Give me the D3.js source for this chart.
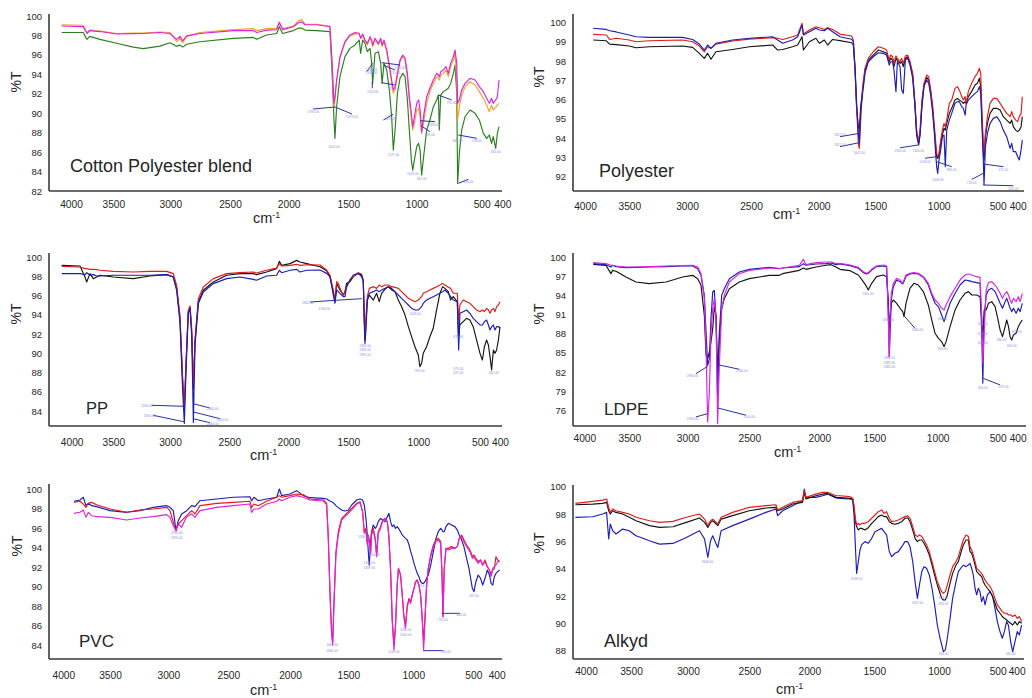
<!DOCTYPE html>
<html>
<head>
<meta charset="utf-8">
<script src="https://cdn.jsdelivr.net/npm/d3@7"></script>
<style>
  html, body { margin: 0; padding: 0; background: #fff; }
  svg { display: block; font-family: "Liberation Sans", Arial, Helvetica, sans-serif; }
</style>
</head>
<body>
<svg id="chart" width="1032" height="698"></svg>
<script>
// ---------- shared axis values ----------
const xTickValues = [4000, 3500, 3000, 2500, 2000, 1500, 1000, 500, 400];

// ---------- Cotton Polyester blend ----------
const p1Wavenumber = [4110,3855,3825,3810,3780,3657,3471,3325,3237,3091,3003,2947,2919,2897,2863,2752,2472,2302,2273,2188,2102,2080,2052,1961,1919,1891,1863,1766,1654,1637,1620,1612,1598,1570,1528,1488,1451,1420,1410,1395,1378,1361,1341,1329,1322,1305,1280,1263,1253,1239,1219,1200,1183,1171,1158,1141,1122,1102,1085,1068,1054,1039,1029,1017,1000,985,974,962,944,923,898,872,846,833,826,815,795,775,757,739,718,705,692,685,672,654,628,590,551,518,492,476,463,452,444,432,424,416];
const p1Magenta = [98.97,98.90,98.40,98.20,98.50,98.40,98.15,98.18,98.20,98.30,98.20,97.60,97.90,97.45,97.95,98.20,98.50,98.50,98.30,98.55,98.60,99.30,98.60,98.90,99.30,99.40,99.10,99.10,98.90,95.47,91.02,91.70,93.42,95.82,97.36,98.05,98.29,98.22,97.70,98.15,97.53,97.19,97.87,97.53,97.02,97.70,97.19,97.70,97.02,97.53,96.50,94.96,93.42,92.39,92.73,94.10,95.47,95.99,95.65,94.10,91.70,89.99,88.61,89.64,91.02,91.36,90.33,88.10,89.99,91.70,92.56,93.42,94.10,93.93,93.76,94.27,94.44,94.79,94.10,95.13,95.82,96.50,95.13,91.02,91.36,92.39,93.07,93.59,93.42,92.73,92.22,91.53,91.02,91.53,91.02,91.36,91.70,93.42];
const p1Orange = [99.10,99.05,98.50,98.30,98.55,98.45,98.20,98.25,98.25,98.35,98.30,97.35,97.70,97.25,97.90,98.30,98.60,98.70,98.50,98.70,98.75,99.40,98.70,98.97,99.50,99.65,99.15,99.15,98.97,95.30,90.50,91.36,93.24,95.65,97.26,97.94,98.15,98.15,97.70,98.05,97.36,97.02,97.70,97.36,96.85,97.53,97.02,97.53,96.85,97.36,96.33,94.62,93.07,92.05,92.39,93.76,95.30,95.89,95.54,93.59,91.36,89.30,88.27,88.96,90.33,90.50,89.64,87.93,89.30,91.02,92.22,93.07,93.76,93.59,93.42,93.93,94.10,94.44,93.76,94.79,95.47,96.16,93.42,89.30,90.67,91.87,92.73,93.24,92.90,92.22,91.53,90.84,90.16,90.84,90.33,90.60,90.84,91.02];
const p1Green = [98.30,98.30,97.80,97.60,97.90,97.60,97.20,96.80,96.65,96.90,97.25,96.90,97.00,96.80,97.10,97.35,97.70,97.80,97.60,98.05,98.20,98.90,98.20,98.50,98.75,98.75,98.55,98.50,98.39,94.44,89.30,87.41,90.67,93.76,95.82,96.67,97.02,97.53,96.16,97.53,97.19,96.33,96.67,95.13,93.07,96.16,96.33,95.13,93.07,95.13,94.44,92.39,89.64,86.21,88.27,92.05,93.59,94.10,93.76,91.36,88.27,85.18,84.15,85.18,86.56,86.90,86.21,83.64,85.87,88.27,89.30,90.67,91.36,91.87,88.27,91.87,92.22,92.39,92.56,93.07,94.10,94.96,92.05,82.78,85.87,88.27,89.64,90.33,89.99,89.30,87.93,87.41,87.76,86.90,87.59,86.38,87.93,88.61];
const p1Leaders = [[1612,90.64,1796,90.43],[1612,90.64,1473,89.92],[1365,94.27,1322,95.13],[1325,93.24,1325,92.56],[1256,95.2,1122,94.96],[1244,94.96,1159,94.44],[1256,93.14,1159,92.9],[1244,89.3,1171,89.9],[975,89.23,859,89.13],[962,88.68,898,88.1],[834,91.87,731,91.36],[680,87.76,538,87.42],[680,82.79,603,83.2]];
const p1PeakLabels = [[1796,90.2],[1473,89.7],[1620,86.6],[1330,94.6],[1330,94.2],[1322,92.3],[1122,94.8],[1159,94.2],[1159,92.6],[1171,85.8],[1190,89.5],[1029,83.9],[962,83.3],[859,88.9],[898,87.9],[731,91.2],[538,87.2],[603,83.0],[685,87.2],[432,86.1]];

// ---------- Polyester ----------
const p2Wavenumber = [3908,3760,3722,3648,3500,3442,3326,3038,2956,2904,2865,2839,2813,2774,2644,2513,2340,2303,2266,2193,2155,2123,2113,2069,2020,1994,1950,1921,1877,1812,1709,1694,1679,1665,1650,1641,1629,1612,1591,1562,1518,1476,1437,1411,1390,1379,1363,1353,1337,1326,1305,1292,1279,1263,1245,1226,1205,1187,1174,1158,1147,1132,1116,1095,1079,1063,1047,1034,1024,1016,1008,997,983,969,955,944,932,910,890,862,842,825,805,791,776,768,749,721,692,672,655,644,633,621,616,604,587,565,537,508,488,472,455,438,430,422,410,400,392,383,377];
const p2Red = [99.39,99.36,99.13,99.19,99.10,99.01,99.06,99.10,99.01,98.79,98.49,98.75,98.67,98.89,99.05,99.15,99.22,99.19,99.13,99.27,99.36,99.97,99.41,99.62,99.79,99.74,99.65,99.74,99.65,99.41,99.31,99.10,97.54,95.64,93.73,93.47,94.94,96.68,97.63,98.15,98.49,98.75,98.67,98.58,98.06,98.32,98.23,97.89,98.27,98.15,97.97,98.15,97.89,98.27,98.32,97.97,97.37,95.81,94.42,93.82,94.42,95.98,96.85,97.28,97.20,96.50,95.64,94.60,93.82,93.21,93.04,93.21,93.90,94.42,94.77,94.60,94.94,95.81,95.98,96.59,96.68,96.50,96.16,95.98,96.16,95.81,96.42,96.85,97.20,97.37,97.63,97.37,95.29,93.56,93.21,94.25,95.12,95.81,96.07,96.07,95.81,95.55,95.29,95.12,95.38,95.12,94.94,94.86,95.12,95.29,96.15];
const p2Black = [99.10,99.06,98.89,98.86,98.79,98.70,98.75,98.79,98.72,98.41,98.15,98.41,98.10,98.49,98.61,98.75,98.84,98.58,98.61,98.75,98.84,99.27,98.58,99.01,99.19,98.93,99.10,98.84,99.13,99.07,98.96,98.84,97.54,95.55,94.60,94.42,95.64,96.50,97.54,98.06,98.32,98.58,98.49,98.41,97.97,98.15,98.06,97.72,98.15,98.03,97.89,97.97,97.72,98.15,98.23,97.89,97.28,95.72,94.25,93.73,94.25,95.81,96.76,97.16,97.02,96.42,95.46,94.42,93.56,93.04,92.95,93.13,93.73,94.16,94.51,94.42,94.77,95.29,95.55,95.98,96.07,95.98,95.90,95.81,95.90,95.81,96.16,96.42,96.76,96.85,97.11,96.68,94.94,93.21,92.87,94.08,94.77,95.29,95.55,95.55,95.46,95.12,94.94,94.77,94.94,94.60,94.42,94.34,94.42,94.60,95.12];
const p2Blue = [99.71,99.65,99.58,99.52,99.36,99.27,99.24,99.24,99.13,98.89,98.58,98.84,98.67,98.93,99.10,99.19,99.27,99.10,98.93,99.10,99.27,99.88,99.36,99.53,99.71,99.62,99.58,99.71,99.53,99.27,99.14,99.01,97.72,95.81,94.25,93.73,95.46,96.33,97.37,97.97,98.23,98.44,98.41,98.32,97.80,97.97,97.97,97.54,96.42,97.97,97.72,96.50,96.33,98.06,98.15,97.80,97.11,95.64,94.16,93.64,94.16,95.64,96.68,97.02,96.85,96.24,95.29,94.25,93.21,92.52,92.17,92.87,93.39,94.08,94.16,92.52,94.42,94.94,95.29,95.81,95.90,95.90,95.64,95.55,95.20,95.72,95.98,96.16,96.33,96.42,96.68,96.33,94.60,92.69,91.57,93.56,94.25,94.77,95.03,95.12,94.86,94.42,94.08,93.47,93.73,93.30,93.30,93.04,92.87,93.39,93.90];
const p2Leaders = [[1641,94.25,1812,94.08],[1641,93.77,1812,93.56],[1160,93.65,1305,93.5],[1016,93.04,1108,92.96],[1016,92.78,890,92.52],[621,92.18,720,91.86],[621,92.66,472,92.52],[621,91.57,422,91.53]];
const p2PeakLabels = [[1812,94.2],[1812,93.7],[1641,93.3],[1305,93.4],[1160,93.4],[1108,92.8],[890,92.4],[1008,91.9],[720,91.7],[472,92.4],[422,91.4]];

// ---------- PP ----------
const p3Wavenumber = [4120,3900,3840,3820,3780,3740,3700,3660,3500,3324,3177,3029,2972,2944,2916,2893,2879,2865,2846,2831,2817,2803,2789,2761,2719,2635,2522,2410,2297,2269,2184,2099,2076,2056,1986,1930,1903,1847,1736,1681,1653,1625,1611,1597,1583,1570,1542,1528,1514,1488,1464,1429,1405,1393,1386,1381,1374,1364,1350,1321,1298,1279,1262,1238,1214,1191,1167,1143,1119,1095,1071,1048,1024,1000,987,973,960,933,906,879,852,825,803,784,757,738,717,684,673,663,636,609,582,555,528,500,488,478,467,458,450,442,433,425,417,408,400];
const p3Black = [99.13,99.06,97.92,97.40,98.27,97.75,97.92,98.10,97.92,97.75,98.03,98.17,97.92,96.71,93.60,87.02,84.26,88.75,94.29,94.81,92.21,86.33,91.18,95.33,96.54,97.40,98.10,98.27,98.27,98.17,98.44,98.79,99.55,99.13,99.31,99.65,99.48,99.31,98.99,98.58,97.96,96.40,95.36,97.26,96.92,96.57,96.05,96.40,97.26,97.44,97.96,98.30,97.96,97.44,93.80,91.38,93.11,95.53,96.05,95.53,96.23,95.36,96.23,96.64,96.92,96.74,96.40,95.53,94.84,93.97,92.76,91.72,90.68,89.82,88.61,88.95,89.99,90.68,91.72,92.59,94.49,96.23,96.92,96.74,96.40,95.53,95.88,95.36,91.55,92.94,93.28,93.63,93.45,92.76,91.38,89.99,89.30,90.68,91.38,90.86,89.65,88.26,90.34,89.99,90.34,91.38,92.76];
const p3Red = [99.03,98.96,98.79,98.79,98.72,98.72,98.69,98.62,98.51,98.44,98.51,98.51,98.27,97.06,93.94,87.37,84.60,89.10,94.46,94.91,92.56,86.68,91.52,95.67,96.89,97.75,98.27,98.37,98.44,98.34,98.62,98.86,99.31,99.06,99.13,99.24,99.13,99.20,99.17,98.65,98.13,96.57,95.53,97.44,97.26,96.74,96.05,96.40,96.92,97.61,97.96,98.37,98.23,97.44,93.80,91.38,93.80,95.88,96.74,96.92,96.74,97.09,96.92,97.09,97.09,96.92,96.85,96.74,96.40,96.05,95.71,95.53,95.36,95.53,95.71,95.88,96.23,96.40,96.57,96.74,96.92,97.09,97.26,97.09,96.85,96.74,96.23,96.23,93.45,95.01,95.53,95.36,95.19,94.84,94.49,94.32,94.49,94.32,94.67,94.49,94.15,94.49,94.67,94.32,94.84,95.01,95.36];
const p3Blue = [98.27,98.27,98.17,98.37,98.10,98.17,98.03,98.03,98.10,98.10,98.10,98.17,97.92,96.54,93.25,85.99,82.70,88.06,94.12,94.64,91.87,82.80,90.83,95.16,96.37,97.23,97.75,97.92,97.68,97.58,98.03,98.10,98.62,98.37,98.62,98.72,98.44,98.62,98.65,98.30,97.96,96.05,95.19,96.57,96.40,96.23,95.88,95.88,96.92,97.61,98.13,98.30,98.13,97.61,93.11,91.03,92.42,95.53,96.23,96.40,96.57,96.40,96.57,96.74,96.92,96.57,96.40,96.05,95.71,95.36,95.01,94.67,94.49,94.49,94.67,94.84,95.19,95.53,95.71,95.88,96.05,96.23,96.40,96.57,96.23,95.88,95.53,95.36,90.34,94.15,94.32,94.49,94.15,93.63,93.28,92.94,92.94,93.28,93.45,92.94,92.42,92.76,92.94,92.42,92.76,92.76,92.59];
const p3Leaders = [[2874,84.49,3161,84.59],[2874,82.86,3147,83.55],[2804,84.76,2663,84.31],[2804,83.9,2578,83.2],[2804,83.2,2663,82.78],[1611,95.5,1819,95.32],[1611,95.5,1404,95.67]];
const p3PeakLabels = [[3200,84.6],[3180,83.6],[2640,84.3],[2560,83.2],[2640,82.8],[1840,95.3],[1700,94.7],[1381,90.9],[1381,90.4],[1381,89.9],[1024,94.2],[990,88.3],[675,91.8],[675,88.5],[675,88.1],[432,88.1]];

// ---------- LDPE ----------
const p4Wavenumber = [3900,3760,3704,3686,3648,3537,3443,3329,3185,3043,2960,2919,2892,2865,2851,2838,2824,2811,2797,2784,2770,2757,2743,2724,2703,2662,2581,2500,2357,2286,2262,2143,2114,2095,2024,1939,1894,1848,1812,1721,1645,1600,1570,1555,1524,1482,1429,1403,1390,1382,1376,1366,1350,1324,1297,1276,1266,1250,1219,1187,1153,1113,1074,1047,1021,994,967,947,930,897,855,814,772,744,716,675,647,633,624,613,596,577,550,522,503,488,476,463,455,446,438,430,421,408,397,388,377];
const p4Magenta = [99.11,98.96,98.70,98.70,98.59,98.43,98.43,98.49,98.59,98.65,98.70,98.43,97.39,93.48,85.65,74.18,78.87,88.26,91.91,93.48,90.35,73.92,83.05,91.91,94.00,96.09,97.39,97.91,98.28,98.17,98.28,98.70,99.63,98.80,99.11,99.22,99.22,98.96,99.01,98.75,98.38,97.70,97.44,97.55,98.07,98.59,98.75,98.59,90.66,84.40,90.66,94.32,95.88,96.66,96.40,95.88,96.40,97.18,97.44,97.55,97.44,96.92,95.88,94.32,93.27,92.75,91.97,91.71,92.49,93.79,95.10,96.40,97.18,97.34,97.18,96.92,96.82,90.66,83.36,88.06,94.84,95.98,96.14,95.62,95.10,94.32,93.53,94.32,94.58,94.05,93.27,92.75,93.53,93.01,93.79,93.01,94.32];
const p4Blue = [98.96,98.80,98.43,98.70,98.49,98.33,98.38,98.43,98.49,98.59,98.59,98.17,97.13,94.00,88.26,83.05,84.09,90.35,94.52,94.78,90.35,77.83,88.26,94.00,95.04,96.61,97.65,98.07,98.38,98.17,98.28,98.49,98.96,98.70,98.90,98.96,99.06,98.80,98.90,98.65,98.23,97.55,97.34,97.44,97.97,98.49,98.59,98.49,91.71,84.40,87.53,93.27,95.36,96.40,96.14,95.78,96.14,97.03,97.34,97.44,97.34,96.82,95.62,94.05,92.75,92.23,90.92,89.88,90.92,92.75,94.32,95.62,96.40,96.30,96.14,95.98,95.88,88.06,80.23,90.66,94.05,94.84,95.10,94.58,93.79,92.75,91.97,93.01,93.53,92.75,91.97,91.45,91.97,91.19,91.97,91.45,92.75];
const p4Black = [98.85,98.70,97.39,97.91,97.76,96.87,96.09,95.83,96.09,96.87,97.13,96.61,95.57,90.87,84.61,84.09,85.13,86.70,88.78,92.18,90.87,82.00,87.22,91.91,93.48,95.04,96.09,96.61,97.13,97.13,97.39,97.91,98.28,98.07,98.43,98.70,98.80,98.43,98.07,97.86,97.18,96.14,95.36,94.84,95.88,96.92,97.18,96.92,93.27,88.06,90.66,92.75,93.27,92.75,91.97,91.45,90.66,92.75,95.10,95.88,95.62,94.58,92.49,90.14,88.06,87.27,86.75,85.97,86.75,89.09,91.71,93.27,94.32,94.58,94.05,94.05,93.79,90.14,87.01,91.71,91.71,92.75,93.01,92.23,90.66,88.58,87.53,89.09,90.14,89.09,87.53,87.01,87.80,88.06,89.09,89.62,90.14];
const p4Leaders = [[2838,82.89,2933,81.74],[2757,83.15,2581,82.42],[2838,75.48,2933,74.96],[2757,76.37,2527,75.23],[1271,90.92,1179,88.84],[620,81.0,488,79.97]];
const p4PeakLabels = [[2960,81.6],[2560,82.3],[2960,74.8],[2500,75.1],[1560,94.4],[1390,90.3],[1382,84.3],[1382,83.6],[1382,82.9],[1160,88.7],[960,90.5],[960,85.8],[624,89.7],[624,88.1],[624,86.7],[624,79.6],[470,79.8],[480,87.2],[430,86.2],[405,88.4]];

// ---------- PVC ----------
const p5Wavenumber = [3886,3822,3786,3757,3732,3697,3643,3500,3357,3243,3129,3014,2986,2958,2936,2917,2889,2847,2805,2778,2736,2597,2460,2325,2311,2292,2257,2190,2108,2086,2068,2000,1943,1886,1829,1714,1686,1672,1657,1643,1634,1623,1606,1586,1557,1529,1500,1474,1436,1410,1390,1377,1364,1354,1346,1339,1328,1321,1308,1293,1282,1270,1252,1236,1218,1200,1188,1175,1162,1149,1137,1124,1114,1098,1085,1073,1060,1046,1033,1020,1008,994,981,967,953,939,925,914,903,889,875,855,833,811,792,772,761,753,742,728,708,681,653,633,617,597,578,556,536,522,508,497,489,479,469,460,450,440,431,424,417,410,403,396,388];
const p5Blue = [98.74,98.87,99.15,98.29,98.53,98.29,98.19,97.78,97.61,97.78,98.12,98.29,98.12,97.78,95.73,96.75,97.44,97.78,98.29,98.19,98.80,98.97,99.15,99.21,98.80,99.15,98.80,98.97,99.15,100.0,99.32,99.49,99.83,99.32,99.11,99.04,98.97,98.87,98.77,98.70,98.63,98.53,98.29,98.09,97.85,97.74,97.85,98.36,98.87,98.97,98.87,98.36,96.99,95.28,93.57,92.20,94.60,95.62,96.31,95.96,96.14,96.65,96.99,96.82,96.65,97.16,97.50,96.65,96.14,96.31,95.96,96.14,95.96,95.62,95.28,95.11,94.94,94.77,94.26,93.57,93.06,92.37,91.86,91.35,91.01,90.49,90.32,90.32,90.49,90.84,91.18,92.20,93.57,94.94,95.62,95.96,95.79,95.62,95.62,96.14,96.48,96.31,96.14,95.79,95.28,94.77,94.09,92.89,91.86,90.84,89.81,89.47,90.49,91.18,90.84,90.15,90.84,91.69,91.18,90.32,90.15,91.01,91.35,91.52,91.69];
const p5Red = [98.63,98.74,98.46,98.12,98.53,98.63,98.39,97.95,97.61,97.85,97.95,98.12,97.78,96.58,95.73,96.41,96.75,97.26,97.78,97.44,98.29,98.53,98.63,98.74,98.12,98.46,98.29,98.74,99.15,99.32,99.15,99.32,99.49,99.42,98.97,98.87,98.53,95.28,89.47,85.37,84.34,88.44,93.57,95.62,96.99,97.33,97.67,98.02,98.53,98.70,97.67,95.62,95.96,94.43,95.28,94.77,93.57,95.62,95.96,94.94,93.23,95.62,96.14,96.82,96.99,96.65,95.28,91.86,86.73,84.00,86.05,90.15,91.86,91.18,89.13,87.07,86.05,88.10,88.78,88.44,89.13,89.81,90.49,90.67,90.15,89.13,86.73,84.34,86.73,90.15,91.86,93.23,94.26,94.77,94.94,94.60,91.52,86.90,91.86,93.91,93.91,94.09,93.91,94.09,94.94,95.28,94.77,94.26,93.91,93.57,93.06,93.23,92.89,92.55,92.72,92.20,92.72,92.03,91.69,91.18,91.69,91.86,93.06,92.72,92.55];
const p5Magenta = [97.50,97.61,97.85,97.09,97.61,97.26,97.16,97.09,96.82,97.03,97.16,97.37,97.09,96.24,95.73,96.41,96.07,97.16,97.44,97.09,97.78,98.12,98.29,98.46,97.61,97.95,97.95,98.46,98.74,98.97,98.80,99.15,99.32,99.15,98.87,98.77,98.36,94.94,89.13,85.02,84.00,88.10,93.23,95.28,96.82,97.16,97.50,97.85,98.43,98.63,97.67,95.45,95.62,94.26,95.11,94.60,93.40,95.28,95.79,94.77,93.06,95.45,95.96,96.72,96.92,96.65,95.11,91.69,86.39,83.49,85.71,90.15,91.86,91.18,89.13,86.90,85.71,87.93,88.61,88.27,89.13,89.81,90.49,90.56,90.15,89.13,86.39,83.49,86.39,90.15,91.86,93.06,94.09,94.60,94.77,94.43,91.18,86.90,91.86,93.91,93.74,93.91,93.91,94.09,94.94,95.11,94.60,94.09,93.74,93.40,92.89,93.06,92.72,92.37,92.72,92.20,92.55,92.03,91.69,91.01,91.86,92.03,92.20,92.55,92.55];
const p5Leaders = [[917,83.42,750,83.42],[764,87.25,611,87.25]];
const p5PeakLabels = [[2930,95.6],[2930,95.1],[1640,84.1],[1640,83.5],[1380,95.2],[1339,92.5],[1339,92.0],[1300,93.3],[1149,83.4],[1060,85.6],[1060,85.1],[914,90.2],[730,83.4],[753,86.7],[600,87.2],[497,89.1]];

// ---------- Alkyd ----------
const p6Wavenumber = [4118,3926,3815,3771,3748,3730,3704,3667,3593,3519,3456,3338,3250,3132,3015,2906,2865,2838,2816,2798,2770,2757,2730,2636,2500,2361,2278,2264,2222,2139,2056,2042,2028,1949,1898,1859,1795,1764,1687,1666,1656,1646,1636,1623,1610,1598,1572,1546,1520,1495,1469,1443,1425,1405,1384,1366,1340,1314,1288,1263,1242,1224,1203,1185,1167,1151,1133,1116,1096,1075,1054,1034,1013,991,977,963,946,929,906,884,855,835,815,793,770,750,736,722,708,693,679,665,651,637,622,608,588,565,543,523,503,488,476,465,453,444,432,421,409,397,386,374];
const p6Red = [98.78,98.93,99.02,99.10,98.49,98.12,98.37,98.24,98.12,98.00,97.76,97.51,97.39,97.46,97.76,98.00,97.63,97.15,97.51,97.63,97.39,97.27,97.76,98.12,98.49,98.61,98.68,98.29,98.49,98.85,98.98,99.71,99.22,99.46,99.59,99.59,99.34,99.34,99.27,99.15,98.66,97.69,97.20,97.32,97.20,97.32,97.32,97.44,97.69,97.93,98.17,98.30,98.05,98.17,97.69,97.44,97.49,97.56,97.69,97.81,97.88,97.69,97.08,96.47,96.35,96.47,96.35,96.10,95.74,95.25,94.52,93.79,93.05,92.57,92.32,92.20,92.32,92.81,93.54,94.15,94.52,94.88,95.49,96.10,96.47,96.35,95.61,95.37,95.00,94.52,94.03,93.91,93.79,93.66,93.42,93.18,92.93,92.69,92.32,91.83,91.35,91.10,90.86,90.74,90.74,90.62,90.62,90.50,90.62,90.37,90.50,90.13];
const p6Black = [98.68,98.73,98.78,98.85,98.24,98.00,98.24,98.12,98.00,97.76,97.51,97.15,97.02,97.07,97.39,97.71,97.39,97.02,97.39,97.51,97.27,97.15,97.63,97.88,98.24,98.44,98.49,98.24,98.37,98.73,98.85,99.59,99.10,99.34,99.46,99.51,99.22,99.20,99.15,99.10,98.42,97.44,97.08,96.83,96.95,96.95,96.83,97.00,97.32,97.56,97.81,97.93,97.81,97.81,97.44,97.32,97.25,97.32,97.44,97.69,97.73,97.44,96.83,96.22,95.98,96.10,96.10,95.86,95.49,95.00,94.27,93.54,92.81,92.20,91.83,91.71,91.71,92.08,92.93,93.66,94.27,94.52,95.13,95.74,96.10,96.10,95.25,95.13,94.76,94.27,93.79,93.66,93.54,93.42,93.05,92.81,92.57,92.32,91.96,91.47,90.98,90.74,90.50,90.37,90.25,90.13,90.01,89.88,90.13,89.88,90.13,90.01];
const p6Blue = [97.76,97.80,98.00,98.12,96.17,97.27,96.78,96.54,96.90,96.78,96.41,96.05,95.80,95.85,96.29,96.78,96.17,94.83,96.05,96.41,95.80,95.56,96.78,97.15,97.63,98.12,98.37,97.88,98.24,98.61,98.98,99.83,99.22,99.22,99.34,99.46,99.17,99.15,99.10,99.03,97.93,95.74,93.66,94.52,95.37,95.74,95.98,95.86,96.22,96.71,96.83,96.95,96.71,96.47,95.25,94.88,95.13,95.25,95.61,95.98,95.98,95.61,94.52,93.05,91.83,92.81,93.79,94.15,94.03,93.54,92.57,91.35,89.88,88.91,88.42,87.93,88.06,88.91,90.37,91.83,93.05,93.79,94.03,94.27,94.15,94.27,94.39,94.03,93.54,92.57,92.08,92.57,92.32,91.59,91.96,91.35,92.08,92.32,91.96,91.10,90.13,89.40,88.91,89.40,90.13,89.88,88.67,87.93,88.67,89.40,89.15,89.88];
const p6Leaders = [];
const p6PeakLabels = [[2840,94.6],[1636,93.3],[1167,91.6],[963,91.9],[963,91.5],[963,87.8],[432,87.8]];

// ---------- styling ----------
const COLORS = {
  magenta: "#de22de",
  orange: "#f2a22e",
  green: "#2c7e20",
  red: "#e21a1a",
  black: "#141414",
  blue: "#1c1cb8"
};
const AXIS_COLOR = "#3a3a3a";
const TEXT_COLOR = "#262626";
const LEADER_COLOR = "#2233a6";
const PEAK_TEXT_COLOR = "#8c8ce8";

// ---------- panel layout ----------
const panels = [
  {
    title: "Cotton Polyester blend", titleSize: 18,
    wn: p1Wavenumber,
    series: [[p1Green, COLORS.green], [p1Orange, COLORS.orange], [p1Magenta, COLORS.magenta]],
    leaders: p1Leaders, peakLabels: p1PeakLabels,
    yTicks: d3.range(82, 101, 2), yDomain: [82, 100], yRange: [191, 16],
    axisX: 49, top: 14, bottom: 191, right: 502,
    xTickPos: [71, 113.3, 170.3, 230, 288.7, 348.3, 416.7, 481.7, 502.3],
    xLabelBase: 208, cmX: 253, cmY: 223, titleX: 70, titleY: 172, pctX: 16, pctY: 82
  },
  {
    title: "Polyester", titleSize: 18,
    wn: p2Wavenumber,
    series: [[p2Black, COLORS.black], [p2Red, COLORS.red], [p2Blue, COLORS.blue]],
    leaders: p2Leaders, peakLabels: p2PeakLabels,
    yTicks: d3.range(92, 101, 1), yDomain: [92, 100], yRange: [176.7, 22.7],
    axisX: 573, top: 14, bottom: 191, right: 1024,
    xTickPos: [585, 629.3, 687, 751, 818.7, 875.3, 938.7, 997.7, 1017.7],
    xLabelBase: 210, cmX: 773, cmY: 219, titleX: 599, titleY: 177, pctX: 539, pctY: 77
  },
  {
    title: "PP", titleSize: 16.5,
    wn: p3Wavenumber,
    series: [[p3Black, COLORS.black], [p3Red, COLORS.red], [p3Blue, COLORS.blue]],
    leaders: p3Leaders, peakLabels: p3PeakLabels,
    yTicks: d3.range(84, 101, 2), yDomain: [84, 100], yRange: [411, 257],
    axisX: 49, top: 253, bottom: 426, right: 502,
    xTickPos: [71.7, 113.3, 170, 229.3, 288.3, 348.3, 418.3, 480, 500],
    xLabelBase: 446, cmX: 250, cmY: 460, titleX: 86, titleY: 414, pctX: 16, pctY: 314
  },
  {
    title: "LDPE", titleSize: 17,
    wn: p4Wavenumber,
    series: [[p4Black, COLORS.black], [p4Blue, COLORS.blue], [p4Magenta, COLORS.magenta]],
    leaders: p4Leaders, peakLabels: p4PeakLabels,
    yTicks: d3.range(76, 101, 3), yDomain: [76, 100], yRange: [410.3, 257],
    axisX: 573, top: 253, bottom: 426, right: 1026,
    xTickPos: [584.3, 629.3, 687.7, 749.3, 819.3, 874.3, 937.7, 997.7, 1017.7],
    xLabelBase: 442, cmX: 774, cmY: 457, titleX: 604, titleY: 415, pctX: 539, pctY: 314
  },
  {
    title: "PVC", titleSize: 17,
    wn: p5Wavenumber,
    series: [[p5Blue, COLORS.blue], [p5Red, COLORS.red], [p5Magenta, COLORS.magenta]],
    leaders: p5Leaders, peakLabels: p5PeakLabels,
    yTicks: d3.range(84, 101, 2), yDomain: [84, 100], yRange: [645, 489],
    axisX: 49, top: 484, bottom: 659, right: 502,
    xTickPos: [63.3, 110, 168.3, 228.3, 290, 348.3, 413.3, 473.3, 496.7],
    xLabelBase: 679, cmX: 250, cmY: 695, titleX: 79, titleY: 647, pctX: 17, pctY: 546
  },
  {
    title: "Alkyd", titleSize: 18,
    wn: p6Wavenumber,
    series: [[p6Blue, COLORS.blue], [p6Black, COLORS.black], [p6Red, COLORS.red]],
    leaders: p6Leaders, peakLabels: p6PeakLabels,
    yTicks: d3.range(88, 101, 2), yDomain: [88, 100], yRange: [650.7, 486.7],
    axisX: 573, top: 485, bottom: 659, right: 1024,
    xTickPos: [586, 631, 688, 749.3, 809.3, 874.3, 939, 997.7, 1016.7],
    xLabelBase: 675, cmX: 776, cmY: 694, titleX: 604, titleY: 647, pctX: 539, pctY: 543
  }
];

const svg = d3.select("#chart");
const fmtWn = d3.format(".2f");

panels.forEach(p => {
  const x = d3.scaleLinear().domain(xTickValues).range(p.xTickPos);
  const y = d3.scaleLinear().domain(p.yDomain).range(p.yRange);
  const g = svg.append("g");

  // y tick labels
  const yAxis = g.append("g")
    .attr("transform", `translate(${p.axisX},0)`)
    .call(d3.axisLeft(y).tickValues(p.yTicks).tickSize(0).tickPadding(7).tickFormat(d3.format("d")));
  yAxis.select(".domain").remove();
  yAxis.attr("font-family", null).attr("font-size", 9.5).attr("color", TEXT_COLOR);

  // x tick labels
  const xAxis = g.append("g")
    .attr("transform", `translate(0,${p.bottom})`)
    .call(d3.axisBottom(x).tickValues(xTickValues).tickSize(0)
      .tickPadding(p.xLabelBase - p.bottom - 7.2).tickFormat(d3.format("d")));
  xAxis.select(".domain").remove();
  xAxis.attr("font-family", null).attr("font-size", 10.2).attr("color", TEXT_COLOR);

  // spectra
  const line = d3.line().x(d => x(d[0])).y(d => y(d[1]));
  p.series.forEach(([values, color]) => {
    const pts = p.wn.map((w, i) => [w, values[i]]);
    g.append("path")
      .attr("d", line(pts))
      .attr("fill", "none")
      .attr("stroke", color)
      .attr("stroke-width", 1.15)
      .attr("stroke-linejoin", "round");
  });

  // peak-pick leaders and their wavenumber labels
  g.append("g").selectAll("line").data(p.leaders).join("line")
    .attr("x1", d => x(d[0])).attr("y1", d => y(d[1]))
    .attr("x2", d => x(d[2])).attr("y2", d => y(d[3]))
    .attr("stroke", LEADER_COLOR).attr("stroke-width", 1);
  g.append("g").selectAll("text").data(p.peakLabels).join("text")
    .attr("x", d => x(d[0])).attr("y", d => y(d[1]) + 2)
    .attr("text-anchor", "middle")
    .attr("font-size", 3.2)
    .attr("fill", PEAK_TEXT_COLOR)
    .text(d => fmtWn(d[0]));

  // axis lines
  g.append("line")
    .attr("x1", p.axisX).attr("x2", p.axisX).attr("y1", p.top).attr("y2", p.bottom)
    .attr("stroke", AXIS_COLOR).attr("stroke-width", 1.6);
  g.append("line")
    .attr("x1", p.axisX).attr("x2", p.right).attr("y1", p.bottom).attr("y2", p.bottom)
    .attr("stroke", AXIS_COLOR).attr("stroke-width", 1.6);

  // axis titles
  g.append("text")
    .attr("transform", `translate(${p.pctX},${p.pctY}) rotate(-90)`)
    .attr("text-anchor", "middle").attr("dy", "0.35em")
    .attr("font-size", 14).attr("fill", TEXT_COLOR)
    .text("%T");
  const cm = g.append("text")
    .attr("x", p.cmX).attr("y", p.cmY)
    .attr("font-size", 14.5).attr("fill", TEXT_COLOR);
  cm.append("tspan").text("cm");
  cm.append("tspan").attr("font-size", 9).attr("dy", -5).text("-1");

  // panel title
  g.append("text")
    .attr("x", p.titleX).attr("y", p.titleY)
    .attr("font-size", p.titleSize).attr("fill", TEXT_COLOR)
    .text(p.title);
});
</script>
</body>
</html>
